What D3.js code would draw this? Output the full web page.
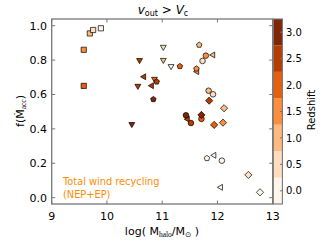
<!DOCTYPE html>
<html><head><meta charset="utf-8">
<script src="https://cdn.jsdelivr.net/npm/d3@7"></script>
<style>body{margin:0;background:#fff}svg{display:block}text{font-family:"DejaVu Sans",sans-serif}</style>
</head><body><svg id="c" width="325" height="244"></svg>
<script>
// Data
const logMhalo = [9.58,9.58,9.69,9.75,9.89, 11.02,10.59,11.02,11.16,10.56,10.45,10.86, 10.67,10.81,11.92,11.63,11.94,12.06,11.46, 11.32,10.84,11.67,10.90,11.81,11.62, 11.79,11.73,11.84,11.92,11.43,11.52,11.71,12.08, 11.85,11.71,11.94,12.10,12.12,12.56,12.77];
const fAcc     = [0.86,0.65,0.955,0.975,0.985, 0.876,0.799,0.80,0.764,0.649,0.427,0.69, 0.703,0.651,0.83,0.733,0.246,0.06,0.456, 0.764,0.572,0.888,0.674,0.229,0.75, 0.826,0.795,0.622,0.601,0.479,0.434,0.458,0.215, 0.564,0.481,0.423,0.436,0.52,0.132,0.031];
const redshift = [1.5,2.0,1.0,0.5,0.0, 0.5,2.5,1.0,0.0,2.5,3.0,2.0, 2.5,2.5,1.0,1.5,0.0,0.0,2.5, 2.0,3.0,1.0,2.5,0.0,1.5, 1.5,0.5,1.0,0.5,3.0,2.5,2.0,0.0, 2.5,3.0,2.0,1.5,1.0,0.5,0.0];
const marker   = ["s","s","s","s","s", "v","v","v","v","v","v","v", "<","<","<","<","<","<","<", "p","p","p","p","p","p", "o","o","o","o","o","o","o","o", "D","D","D","D","D","D","D"];
const xTicks = [9,10,11,12,13];
const yTicks = [0.0,0.2,0.4,0.6,0.8,1.0];
const zTicks = [0.0,0.5,1.0,1.5,2.0,2.5,3.0];
const zLevels = [0.0,0.5,1.0,1.5,2.0,2.5,3.0];

const svg = d3.select("#c");
const L=51.7,R=272.7,T=19,B=204;
const x = d3.scaleLinear().domain([9,13]).range([L,R]);
const y = d3.scaleLinear().domain([-0.037,1.039]).range([B,T]);
const zc = d3.scaleLinear().domain([-0.25,3.25]).range([B,T]);
const col = z => d3.interpolateOranges(Math.round(z/0.5)/6);

function shapePath(m){
  const p=[];
  if(m==="s"){const h=2.6;return `M${-h},${-h}H${h}V${h}H${-h}Z`;}
  if(m==="o"){const r=2.8;return `M${r},0A${r},${r} 0 1,1 ${-r},0A${r},${r} 0 1,1 ${r},0Z`;}
  if(m==="D"){const r=3.6;return `M0,${-r}L${r},0L0,${r}L${-r},0Z`;}
  if(m==="v"){const r=3.4;return `M0,${r}L${-r*0.87},${-r/2}L${r*0.87},${-r/2}Z`;}
  if(m==="<"){const r=3.4;return `M${-r},0L${r/2},${-r*0.87}L${r/2},${r*0.87}Z`;}
  if(m==="p"){const r=2.9;for(let i=0;i<5;i++){const a=-Math.PI/2+i*2*Math.PI/5;p.push([r*Math.cos(a),r*Math.sin(a)]);}
    return "M"+p.map(q=>q[0].toFixed(2)+","+q[1].toFixed(2)).join("L")+"Z";}
}

// plot points
svg.append("clipPath").attr("id","cp").append("rect").attr("x",L).attr("y",T).attr("width",R-L).attr("height",B-T);
const g = svg.append("g").attr("clip-path","url(#cp)");
logMhalo.forEach((v,i)=>{
  g.append("path").attr("d",shapePath(marker[i]))
   .attr("transform",`translate(${x(v)},${y(fAcc[i])})`)
   .attr("fill",col(redshift[i])).attr("stroke","#000").attr("stroke-width",0.7);
});

// annotation
svg.append("text").attr("x",63).attr("y",184.5).attr("fill","#ff8c00").attr("font-size",9.8).text("Total wind recycling");
svg.append("text").attr("x",63).attr("y",197.5).attr("fill","#ff8c00").attr("font-size",9.8).text("(NEP+EP)");

// frame & ticks
const fc="#777";
svg.append("rect").attr("x",L).attr("y",T).attr("width",R-L).attr("height",B-T).attr("fill","none").attr("stroke",fc).attr("stroke-width",1.3);
xTicks.forEach(t=>{
  svg.append("line").attr("x1",x(t)).attr("x2",x(t)).attr("y1",B).attr("y2",B-3.5).attr("stroke",fc);
  svg.append("line").attr("x1",x(t)).attr("x2",x(t)).attr("y1",T).attr("y2",T+3.5).attr("stroke",fc);
  svg.append("text").attr("x",x(t)).attr("y",220).attr("text-anchor","middle").attr("font-size",11).text(t);
});
yTicks.forEach(t=>{
  svg.append("line").attr("x1",L).attr("x2",L+3.5).attr("y1",y(t)).attr("y2",y(t)).attr("stroke",fc);
  svg.append("line").attr("x1",R).attr("x2",R-3.5).attr("y1",y(t)).attr("y2",y(t)).attr("stroke",fc);
  svg.append("text").attr("x",47).attr("y",y(t)+4).attr("text-anchor","end").attr("font-size",11).text(t.toFixed(1));
});

// colorbar
const cbL=273.3,cbR=282.4;
zLevels.forEach(z=>{
  svg.append("rect").attr("x",cbL).attr("width",cbR-cbL).attr("y",zc(z+0.25)).attr("height",zc(z-0.25)-zc(z+0.25)).attr("fill",col(z));
});
svg.append("rect").attr("x",cbL).attr("y",T).attr("width",cbR-cbL).attr("height",B-T).attr("fill","none").attr("stroke",fc).attr("stroke-width",1.1);
zTicks.forEach(t=>{
  svg.append("line").attr("x1",cbR-2.5).attr("x2",cbR+0.5).attr("y1",zc(t)).attr("y2",zc(t)).attr("stroke",fc);
  svg.append("text").attr("x",286).attr("y",zc(t)+3.6).attr("font-size",10).text(t.toFixed(1));
});
svg.append("text").attr("transform","translate(315,110) rotate(-90)").attr("text-anchor","middle").attr("font-size",10).text("Redshift");

// title
const tt = svg.append("text").attr("x",163).attr("y",14).attr("text-anchor","middle").attr("font-family","'Liberation Serif',serif").attr("font-size",12);
tt.append("tspan").attr("font-style","italic").text("v");
tt.append("tspan").attr("font-size",8).attr("dy",2).text("out");
tt.append("tspan").attr("dy",-2).text(" > ");
tt.append("tspan").attr("font-style","italic").text("V");
tt.append("tspan").attr("font-size",8).attr("dy",2).text("c");

// x label
const xl = svg.append("text").attr("x",162).attr("y",235).attr("text-anchor","middle").attr("font-size",11);
xl.append("tspan").text("log( M");
xl.append("tspan").attr("font-size",7.5).attr("dy",2).attr("font-family","'Liberation Serif',serif").text("halo");
xl.append("tspan").attr("dy",-2).text("/M");
xl.append("tspan").attr("font-size",7.5).attr("dy",2).text("⊙");
xl.append("tspan").attr("dy",-2).text(" )");

// y label
const yl = svg.append("text").attr("transform","translate(24,111) rotate(-90)").attr("text-anchor","middle").attr("font-size",11);
yl.append("tspan").text("f(Ṁ");
yl.append("tspan").attr("font-size",7.5).attr("dy",2).attr("font-family","'Liberation Serif',serif").text("acc");
yl.append("tspan").attr("dy",-2).text(")");
</script></body></html>
